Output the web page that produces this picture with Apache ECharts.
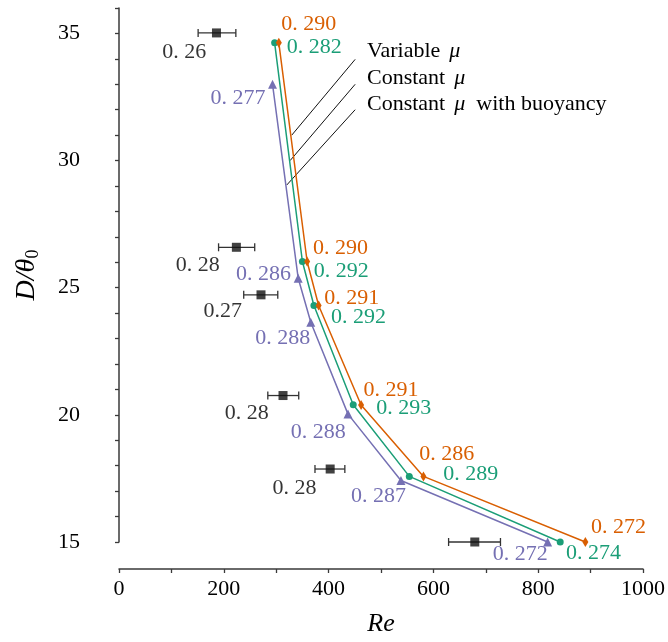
<!DOCTYPE html>
<html><head><meta charset="utf-8">
<script src="https://cdn.jsdelivr.net/npm/echarts@6/dist/echarts.min.js"></script>
<style>html,body{margin:0;padding:0;background:#fff}#c{width:668px;height:642px}</style>
</head><body><div id="c"></div>
<script>
// ---- data ----
const reVariable = [305, 359, 381, 462, 581, 890];
const dVariable  = [34.63, 26.03, 24.30, 20.39, 17.58, 15.0];
const lblVariable = ['0. 290', '0. 290', '0. 291', '0. 291', '0. 286', '0. 272'];

const reConstant = [297, 350, 372, 447, 554, 842];
const dConstant  = [34.63, 26.03, 24.30, 20.40, 17.58, 15.0];
const lblConstant = ['0. 282', '0. 292', '0. 292', '0. 293', '0. 289', '0. 274'];

const reBuoy = [293, 342, 366, 437, 538, 818];
const dBuoy  = [33.0, 25.37, 23.64, 20.03, 17.42, 15.0];
const lblBuoy = ['0. 277', '0. 286', '0. 288', '0. 288', '0. 287', '0. 272'];

const reExp   = [186, 224, 271, 313, 403, 679];
const reExpLo = [151, 190, 238, 284, 374, 629];
const reExpHi = [223, 259, 303, 343, 431, 728];
const dExp    = [35.02, 26.59, 24.72, 20.76, 17.87, 15.0];
const lblExp  = ['0. 26', '0. 28', '0.27', '0. 28', '0. 28', ''];

const legendNames = ['Variable', 'Constant', 'Constant'];
const legendSuffix = ['', '', 'with buoyancy'];
// leader lines (data coords): [reStart, dStart, reEnd, dEnd]
const leaderLines = [[450.7, 33.98, 329.7, 31.0], [450.7, 33.0, 326.6, 30.0], [450.7, 32.0, 320.2, 29.04]];

const xTicks = {min: 0, max: 1000, step: 100, labelStep: 200};
const yTicks = {min: 15, max: 36, step: 1, labelStep: 5, labelMax: 35};

// ---- layout (label offsets in px relative to the point) ----
const offVariable = [[2.4,-19],[6,-13.7],[5.7,-7.2],[2.4,-15],[-4.3,-21.7],[5.7,-14.3]];
const offConstant = [[12,4],[11.4,10],[17,11.8],[23,4],[34,-2],[5.7,11.7]];
const offBuoy = [[-7,14],[-7.3,-3.8],[-0.6,15.7],[-2.3,17.7],[5,15.8],[0,12]];
const offExp = [[-10.3,19],[-16.6,18],[-19,16.7],[-14.3,17.3],[-13.7,18.7],[0,0]];

const FONT = 'Liberation Serif';
const C_OR = '#D95F02', C_GR = '#1B9E77', C_PU = '#7570B3', C_AX = '#3a3a3a';

function build(xs, ys, lbls, offs, color, align) {
  return xs.map((x, i) => ({
    value: [x, ys[i]],
    label: {
      show: lbls[i] !== '', formatter: lbls[i], position: 'inside', align: align,
      verticalAlign: 'middle', offset: offs[i], color: color,
      fontFamily: FONT, fontSize: 22
    }
  }));
}

const chart = echarts.init(document.getElementById('c'), null, {renderer: 'canvas'});
const option = {
  backgroundColor: '#fff',
  animation: false,
  grid: {left: 119, right: 20, top: 8, bottom: 100},
  xAxis: {
    type: 'value', min: xTicks.min, max: xTicks.max, interval: xTicks.step, offset: 27,
    name: 'Re', nameLocation: 'middle', nameGap: 42,
    nameTextStyle: {fontFamily: FONT, fontSize: 26, fontStyle: 'italic', color: '#000'},
    axisLine: {lineStyle: {color: C_AX, width: 1.5}},
    axisTick: {length: 4, lineStyle: {color: C_AX, width: 1.3}},
    axisLabel: {margin: 9, fontFamily: FONT, fontSize: 22, color: '#000',
      formatter: v => (v % xTicks.labelStep === 0 ? String(v) : '')},
    splitLine: {show: false}
  },
  yAxis: {
    type: 'value', min: yTicks.min, max: yTicks.max, interval: yTicks.step, offset: 27,
    name: '{i|D}{n|/}{i|θ}{s|0}', nameLocation: 'middle', nameGap: 50,
    nameTextStyle: {fontFamily: FONT, fontSize: 28, color: '#000',
      rich: {i: {fontFamily: FONT, fontSize: 28, fontStyle: 'italic', color: '#000'},
             n: {fontFamily: FONT, fontSize: 28, fontStyle: 'italic', color: '#000'},
             s: {fontFamily: FONT, fontSize: 18, color: '#000', verticalAlign: 'bottom', padding: [12, 0, 0, 0]}}},
    axisLine: {lineStyle: {color: C_AX, width: 1.5}},
    axisTick: {length: 4, lineStyle: {color: C_AX, width: 1.3}},
    axisLabel: {margin: 12, fontFamily: FONT, fontSize: 22, color: '#000',
      formatter: v => (v % yTicks.labelStep === 0 && v <= yTicks.labelMax ? String(v) : '')},
    splitLine: {show: false}
  },
  series: [
    {
      type: 'custom', name: 'err', z: 3,
      renderItem: function (params, api) {
        const y = api.value(2);
        const p1 = api.coord([api.value(0), y]);
        const p2 = api.coord([api.value(1), y]);
        const h = 4;
        const st = {stroke: '#333', lineWidth: 1.3};
        return {type: 'group', children: [
          {type: 'line', shape: {x1: p1[0], y1: p1[1], x2: p2[0], y2: p2[1]}, style: st},
          {type: 'line', shape: {x1: p1[0], y1: p1[1] - h, x2: p1[0], y2: p1[1] + h}, style: st},
          {type: 'line', shape: {x1: p2[0], y1: p2[1] - h, x2: p2[0], y2: p2[1] + h}, style: st}
        ]};
      },
      encode: {x: [0, 1], y: 2},
      data: reExp.map((x, i) => [reExpLo[i], reExpHi[i], dExp[i]])
    },
    {
      type: 'scatter', name: 'Experiment', z: 4,
      symbol: 'rect', symbolSize: 9, itemStyle: {color: '#111'},
      data: build(reExp, dExp, lblExp, offExp, '#000', 'right'),
      markLine: {
        silent: true, symbol: 'none', animation: false,
        lineStyle: {color: '#111', width: 1, type: 'solid'},
        label: {show: false},
        data: leaderLines.map(l => [{coord: [l[0], l[1]]}, {coord: [l[2], l[3]]}])
      }
    },
    {
      type: 'line', name: 'Constant μ with buoyancy', z: 5,
      symbol: 'triangle', symbolSize: 9, showAllSymbol: true,
      lineStyle: {color: C_PU, width: 1.5}, itemStyle: {color: C_PU},
      data: build(reBuoy, dBuoy, lblBuoy, offBuoy, C_PU, 'right')
    },
    {
      type: 'line', name: 'Constant μ', z: 6,
      symbol: 'circle', symbolSize: 7, showAllSymbol: true,
      lineStyle: {color: C_GR, width: 1.5}, itemStyle: {color: C_GR},
      data: build(reConstant, dConstant, lblConstant, offConstant, C_GR, 'left')
    },
    {
      type: 'line', name: 'Variable μ', z: 7,
      symbol: 'diamond', symbolSize: [6, 10], showAllSymbol: true,
      lineStyle: {color: C_OR, width: 1.5}, itemStyle: {color: C_OR},
      data: build(reVariable, dVariable, lblVariable, offVariable, C_OR, 'left')
    }
  ],
  graphic: legendNames.map((n, i) => ({
    type: 'text', left: 367, top: [40, 67.5, 93][i], z: 10,
    style: {
      text: n + '{m|μ}' + legendSuffix[i],
      rich: {m: {fontFamily: FONT, fontSize: 22, fontStyle: 'italic', fill: '#000', padding: [0, 11, 0, 9]}},
      font: '22px "Liberation Serif"', fill: '#000'
    }
  }))
};
chart.setOption(option);
</script>
</body></html>
